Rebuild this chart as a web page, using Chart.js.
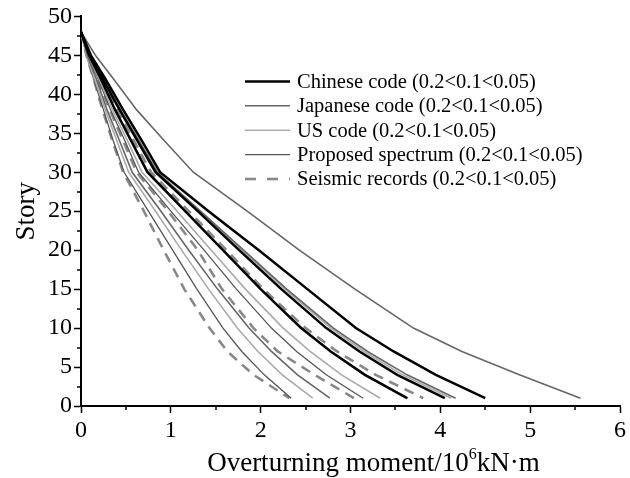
<!DOCTYPE html>
<html><head><meta charset="utf-8">
<script src="https://cdn.jsdelivr.net/npm/chart.js@4/dist/chart.umd.min.js"></script>
<style>html,body{margin:0;padding:0;background:#fff}</style>
</head><body>
<canvas id="c" width="630" height="478"></canvas>
<script>
// Story levels at which the moment curves are read
const stories = [48, 45, 42, 38, 34, 30, 25, 20, 15, 10, 7, 4, 1];

// Overturning moment (10^6 kN·m), three levels per method (0.2 < 0.1 < 0.05)
const chinese02  = [0, 0.09, 0.22, 0.38, 0.56, 0.74, 1.16, 1.58, 2.00, 2.45, 2.78, 3.16, 3.63];
const chinese01  = [0, 0.10, 0.24, 0.43, 0.63, 0.83, 1.30, 1.76, 2.23, 2.73, 3.10, 3.52, 4.05];
const chinese005 = [0, 0.11, 0.27, 0.47, 0.68, 0.88, 1.42, 1.98, 2.52, 3.06, 3.48, 3.95, 4.50];

const japanese02  = [0, 0.07, 0.17, 0.29, 0.43, 0.57, 0.89, 1.20, 1.52, 1.87, 2.12, 2.41, 2.77];
const japanese01  = [0, 0.10, 0.25, 0.44, 0.65, 0.85, 1.33, 1.81, 2.29, 2.81, 3.19, 3.63, 4.17];
const japanese005 = [0, 0.16, 0.36, 0.62, 0.93, 1.25, 1.85, 2.43, 3.05, 3.70, 4.24, 4.88, 5.56];

const us02  = [0, 0.06, 0.15, 0.27, 0.40, 0.53, 0.83, 1.12, 1.42, 1.74, 1.97, 2.24, 2.58];
const us01  = [0, 0.08, 0.20, 0.35, 0.52, 0.68, 1.07, 1.45, 1.83, 2.25, 2.55, 2.90, 3.33];
const us005 = [0, 0.10, 0.25, 0.43, 0.64, 0.84, 1.32, 1.79, 2.27, 2.78, 3.15, 3.58, 4.12];

const proposed02  = [0, 0.06, 0.14, 0.25, 0.36, 0.48, 0.75, 1.02, 1.29, 1.58, 1.79, 2.04, 2.34];
const proposed01  = [0, 0.08, 0.19, 0.33, 0.49, 0.64, 1.00, 1.37, 1.73, 2.12, 2.40, 2.73, 3.14];
const proposed005 = [0, 0.09, 0.22, 0.38, 0.56, 0.75, 1.16, 1.58, 2.00, 2.46, 2.78, 3.17, 3.64];

const seismic02  = [0, 0.06, 0.14, 0.24, 0.35, 0.47, 0.70, 0.92, 1.15, 1.43, 1.63, 1.92, 2.32];
const seismic01  = [0, 0.08, 0.18, 0.32, 0.47, 0.62, 0.97, 1.30, 1.57, 1.92, 2.19, 2.60, 3.04];
const seismic005 = [0, 0.10, 0.23, 0.40, 0.59, 0.78, 1.20, 1.62, 2.03, 2.50, 2.85, 3.28, 3.81];

const legendLabels = [
  'Chinese code (0.2<0.1<0.05)',
  'Japanese code (0.2<0.1<0.05)',
  'US code (0.2<0.1<0.05)',
  'Proposed spectrum (0.2<0.1<0.05)',
  'Seismic records (0.2<0.1<0.05)'
];
const xTickValues = [0, 1, 2, 3, 4, 5, 6];
const yTickValues = [0, 5, 10, 15, 20, 25, 30, 35, 40, 45, 50];

const FONT = "'Liberation Serif', 'Times New Roman', serif";

const styles = [
  {color: '#000000', width: 2.5, dash: []},
  {color: '#666666', width: 1.6, dash: []},
  {color: '#aaaaaa', width: 1.6, dash: []},
  {color: '#555555', width: 1.3, dash: []},
  {color: '#888888', width: 2.6, dash: [10, 7]}
];
const groups = [
  [chinese02, chinese01, chinese005],
  [japanese02, japanese01, japanese005],
  [us02, us01, us005],
  [proposed02, proposed01, proposed005],
  [seismic02, seismic01, seismic005]
];

const datasets = [];
groups.forEach((g, gi) => {
  g.forEach((vals, k) => {
    datasets.push({
      label: legendLabels[gi],
      legendEntry: k === 0,
      data: vals.map((v, i) => ({x: v, y: stories[i]})),
      showLine: true,
      borderColor: styles[gi].color,
      backgroundColor: styles[gi].color,
      borderWidth: styles[gi].width,
      borderDash: styles[gi].dash,
      pointRadius: 0,
      tension: 0,
      fill: false
    });
  });
});

const minorTicks = {
  id: 'minorTicks',
  afterDraw(chart) {
    const {ctx} = chart;
    const xs = chart.scales.x, ys = chart.scales.y;
    ctx.save();
    ctx.strokeStyle = '#000';
    ctx.lineWidth = 1.5;
    ctx.beginPath();
    for (let i = 0; i < xTickValues.length - 1; i++) {
      const px = Math.round(xs.getPixelForValue((xTickValues[i] + xTickValues[i + 1]) / 2));
      ctx.moveTo(px, ys.bottom);
      ctx.lineTo(px, ys.bottom + 4);
    }
    for (let i = 0; i < yTickValues.length - 1; i++) {
      const py = Math.round(ys.getPixelForValue((yTickValues[i] + yTickValues[i + 1]) / 2));
      ctx.moveTo(xs.left, py);
      ctx.lineTo(xs.left - 4, py);
    }
    ctx.stroke();
    ctx.restore();
  }
};

const xTitle = {
  id: 'xTitle',
  afterDraw(chart) {
    const {ctx, chartArea} = chart;
    const big = '27px ' + FONT, small = '16px ' + FONT;
    const a = 'Overturning moment/10', b = '6', c = 'kN\u00B7m';
    ctx.save();
    ctx.fillStyle = '#000';
    ctx.textBaseline = 'alphabetic';
    ctx.font = big; const wa = ctx.measureText(a).width, wc = ctx.measureText(c).width;
    ctx.font = small; const wb = ctx.measureText(b).width;
    const total = wa + wb + wc;
    const cx = (chartArea.left + chartArea.right) / 2 + 23;
    let x = cx - total / 2;
    const base = chartArea.bottom + 65;
    ctx.font = big; ctx.fillText(a, x, base); x += wa;
    ctx.font = small; ctx.fillText(b, x, base - 12); x += wb;
    ctx.font = big; ctx.fillText(c, x, base);
    ctx.restore();
  }
};

const legendPlugin = {
  id: 'customLegend',
  afterDraw(chart) {
    const {ctx, chartArea} = chart;
    const items = chart.data.datasets.filter(d => d.legendEntry);
    const x0 = chartArea.left + 164, x1 = x0 + 45, tx = x1 + 7;
    let y = chartArea.top + 65;
    ctx.save();
    ctx.font = '20.5px ' + FONT;
    ctx.textBaseline = 'middle';
    items.forEach(d => {
      ctx.strokeStyle = d.borderColor;
      ctx.lineWidth = d.borderWidth;
      ctx.setLineDash(d.borderDash.length ? [11, 11] : []);
      ctx.beginPath();
      ctx.moveTo(x0, y);
      ctx.lineTo(x1, y);
      ctx.stroke();
      ctx.setLineDash([]);
      ctx.fillStyle = '#000';
      ctx.fillText(d.label, tx, y + 1);
      y += 24.4;
    });
    ctx.restore();
  }
};

new Chart(document.getElementById('c'), {
  type: 'scatter',
  data: {datasets},
  plugins: [minorTicks, xTitle, legendPlugin],
  options: {
    responsive: false,
    animation: false,
    devicePixelRatio: 1,
    layout: {padding: {top: 16, right: 10, left: 0, bottom: 0}},
    plugins: {legend: {display: false}, tooltip: {enabled: false}},
    scales: {
      x: {
        type: 'linear', min: 0, max: 6,
        afterBuildTicks(s) { s.ticks = xTickValues.map(v => ({value: v})); },
        afterFit(s) { s.height = 72; },
        ticks: {color: '#000', font: {family: FONT, size: 24}, padding: 3},
        grid: {drawOnChartArea: false, drawTicks: true, tickLength: 7, tickColor: '#000', tickWidth: 1.5},
        border: {display: true, color: '#000', width: 2}
      },
      y: {
        type: 'linear', min: 0, max: 50,
        afterBuildTicks(s) { s.ticks = yTickValues.map(v => ({value: v})); },
        afterFit(s) { s.width = 81; },
        ticks: {color: '#000', font: {family: FONT, size: 24}, padding: 2},
        grid: {drawOnChartArea: false, drawTicks: true, tickLength: 7, tickColor: '#000', tickWidth: 1.5},
        border: {display: true, color: '#000', width: 2},
        title: {display: true, text: 'Story', color: '#000', font: {family: FONT, size: 27}, padding: {top: 11, bottom: 0}}
      }
    }
  }
});
</script>
</body></html>
